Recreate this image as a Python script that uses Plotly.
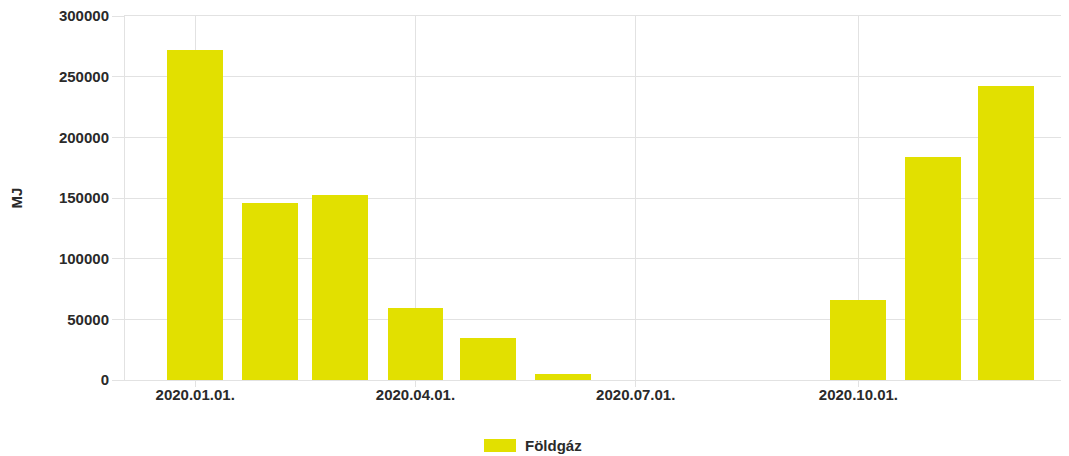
import plotly.graph_objects as go

months = ["2020-01-01", "2020-02-01", "2020-03-01", "2020-04-01", "2020-05-01", "2020-06-01",
          "2020-07-01", "2020-08-01", "2020-09-01", "2020-10-01", "2020-11-01", "2020-12-01"]
foldgaz = [272000, 145500, 152500, 59500, 34800, 5000, 0, 0, 0, 66000, 184000, 242500]
y_ticks = [0, 50000, 100000, 150000, 200000, 250000, 300000]
series_name = "Földgáz"
y_title = "MJ"

DAY_MS = 86400000
BAR_COLOR = "#e2e000"
font_bold = dict(family="Liberation Sans, Arial, sans-serif", size=15, color="#2a2a2a", weight="bold")

fig = go.Figure()
fig.add_trace(go.Bar(
    x=months, y=foldgaz, name=series_name,
    width=23.1 * DAY_MS,
    marker=dict(color=BAR_COLOR, line=dict(width=0)),
    showlegend=False,
))

# Custom legend (wide swatch like the reference)
fig.add_shape(type="rect", xref="paper", yref="paper",
              x0=0.3803, x1=0.4142, y0=-0.1978, y1=-0.1621,
              fillcolor=BAR_COLOR, line=dict(width=0))
fig.add_annotation(xref="paper", yref="paper", x=0.4212, y=-0.1799,
                   text=series_name, showarrow=False, xanchor="left", yanchor="middle",
                   font=font_bold)

fig.update_layout(
    width=1061, height=448,
    margin=dict(l=117, r=0, t=8, b=76),
    paper_bgcolor="white", plot_bgcolor="white",
    font=font_bold,
    bargap=0,
)

fig.update_xaxes(
    type="date",
    range=["2019-12-03", "2020-12-27"],
    tick0="2020-01-01", dtick="M3", tickformat="%Y.%m.%d.",
    showgrid=True, gridcolor="#e2e2e2", gridwidth=1,
    ticks="outside", ticklen=6, tickcolor="#e2e2e2",
    ticklabelstandoff=-5,
    showline=True, mirror=True, linecolor="#e2e2e2", linewidth=1,
    tickfont=font_bold, zeroline=False,
)
fig.update_yaxes(
    range=[0, 300000],
    tickmode="array", tickvals=y_ticks, ticktext=[str(v) for v in y_ticks],
    ticklabeloverflow="allow",
    showgrid=True, gridcolor="#e2e2e2", gridwidth=1,
    ticks="outside", ticklen=12, tickcolor="#e2e2e2",
    showline=True, linecolor="#e2e2e2", linewidth=1,
    zeroline=False,
    tickfont=font_bold,
    title=dict(text=y_title, font=font_bold, standoff=32),
    automargin=False,
)

fig.write_html("out.html")
